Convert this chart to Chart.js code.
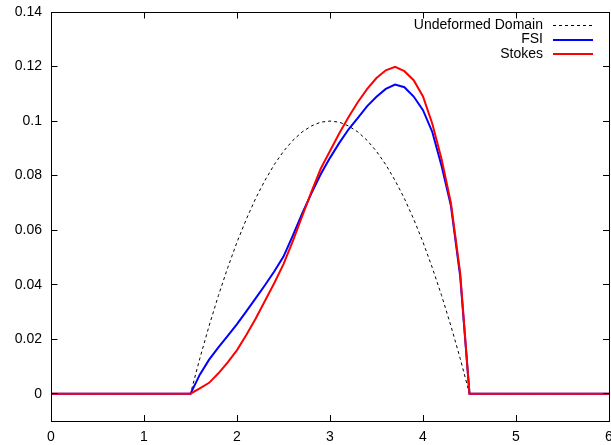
<!DOCTYPE html>
<html>
<head>
<meta charset="utf-8">
<script src="https://cdn.jsdelivr.net/npm/chart.js@4/dist/chart.umd.min.js"></script>
<style>
html,body{margin:0;padding:0;background:#fff;}
</style>
</head>
<body>
<canvas id="c" width="611" height="445"></canvas>
<script>
const xGrid = [0, 1.5, 1.6, 1.7, 1.8, 1.9, 2.0, 2.1, 2.2, 2.3, 2.4, 2.5, 2.6, 2.7, 2.8, 2.9, 3.0,
  3.1, 3.2, 3.3, 3.4, 3.5, 3.6, 3.7, 3.8, 3.9, 4.0, 4.1, 4.2, 4.3, 4.4, 4.5, 6];
const yUndeformed = [0, 0, 0.0129, 0.0249, 0.036, 0.0462, 0.0556, 0.064, 0.0716, 0.0782, 0.084, 0.0889, 0.0929, 0.096, 0.0982, 0.0996, 0.1,
  0.0996, 0.0982, 0.096, 0.0929, 0.0889, 0.084, 0.0782, 0.0716, 0.064, 0.0556, 0.0462, 0.036, 0.0249, 0.0129, 0, 0];
const yFSI = [0, 0, 0.007, 0.0125, 0.017, 0.0212, 0.0255, 0.0302, 0.035, 0.0398, 0.0448, 0.0503, 0.058, 0.066, 0.0735, 0.0805, 0.0865,
  0.092, 0.097, 0.1012, 0.1055, 0.1089, 0.1118, 0.1134, 0.1124, 0.109, 0.104, 0.096, 0.0835, 0.069, 0.043, 0, 0];
const yStokes = [0, 0, 0.002, 0.004, 0.0075, 0.0115, 0.016, 0.0215, 0.0275, 0.034, 0.0405, 0.0475, 0.056, 0.065, 0.074, 0.0825, 0.089,
  0.0955, 0.1015, 0.107, 0.1118, 0.1158, 0.1186, 0.1199, 0.1183, 0.115, 0.109, 0.099, 0.086, 0.07, 0.0442, 0, 0];
const seriesLabels = ["Undeformed Domain", "FSI", "Stokes"];
const xTicks = [0, 1, 2, 3, 4, 5, 6];
const yTicks = [0, 0.02, 0.04, 0.06, 0.08, 0.1, 0.12, 0.14];
const yTickLabels = ["0", "0.02", "0.04", "0.06", "0.08", "0.1", "0.12", "0.14"];

const FONT = "'Liberation Sans', Arial, Helvetica, sans-serif";
const BLACK = '#000000';
const pts = ys => xGrid.map((x, i) => ({x: x, y: ys[i]}));

function seg(ctx, x1, y1, x2, y2) {
  ctx.beginPath();
  ctx.moveTo(x1, y1);
  ctx.lineTo(x2, y2);
  ctx.stroke();
}

const framePlugin = {
  id: 'frame',
  afterDraw(chart) {
    const ctx = chart.ctx, a = chart.chartArea;
    const xs = chart.scales.x, ys = chart.scales.y;
    const L = Math.round(a.left - 0.5) + 0.5, R = Math.round(a.right - 0.5) + 0.5;
    const T = Math.round(a.top - 0.5) + 0.5, B = Math.round(a.bottom - 0.5) + 0.5;
    ctx.save();
    ctx.setLineDash([]);
    ctx.strokeStyle = BLACK;
    ctx.lineWidth = 1;
    seg(ctx, L - 0.5, T, R + 0.5, T);
    seg(ctx, L - 0.5, B, R + 0.5, B);
    seg(ctx, L, T - 0.5, L, B + 0.5);
    seg(ctx, R, T - 0.5, R, B + 0.5);
    const tl = 6;
    xTicks.forEach(v => {
      const px = Math.round(xs.getPixelForValue(v) - 0.5) + 0.5;
      seg(ctx, px, B + 0.5, px, B - tl);
      seg(ctx, px, T - 0.5, px, T + tl);
    });
    yTicks.forEach(v => {
      const py = Math.round(ys.getPixelForValue(v) - 0.5) + 0.5;
      seg(ctx, L - 0.5, py, L + tl, py);
      seg(ctx, R + 0.5, py, R - tl, py);
    });

    ctx.font = '14px ' + FONT;
    ctx.textAlign = 'right';
    ctx.textBaseline = 'middle';
    chart.data.datasets.forEach((ds, i) => {
      const y = a.top + 13 + i * 14.5;
      ctx.fillStyle = BLACK;
      ctx.fillText(ds.label, a.right - 66, y);
      ctx.strokeStyle = ds.borderColor;
      ctx.lineWidth = ds.borderWidth;
      ctx.setLineDash(ds.borderDash || []);
      const ly = Math.round(y) + (ds.borderWidth % 2 ? 0.5 : 0);
      seg(ctx, a.right - 56, ly, a.right - 16, ly);
    });
    ctx.restore();
  }
};

const zeroPad = s => { s.paddingLeft = 0; s.paddingRight = 0; s.paddingTop = 0; s.paddingBottom = 0; };
const gridOpts = {display: true, drawOnChartArea: false, drawTicks: true, tickLength: -6, color: BLACK, lineWidth: 1};
const borderOpts = {display: true, color: BLACK, width: 1};
const setXTicks = s => { s.ticks = xTicks.map(v => ({value: v})); };
const setYTicks = s => { s.ticks = yTicks.map(v => ({value: v})); };

new Chart(document.getElementById('c'), {
  type: 'line',
  data: {
    datasets: [
      {label: seriesLabels[0], data: pts(yUndeformed), borderColor: BLACK, borderWidth: 1, borderDash: [3, 3], order: 3},
      {label: seriesLabels[1], data: pts(yFSI), borderColor: '#0000ff', borderWidth: 2, order: 2},
      {label: seriesLabels[2], data: pts(yStokes), borderColor: '#ff0000', borderWidth: 2, order: 1}
    ]
  },
  options: {
    responsive: false,
    animation: false,
    events: [],
    layout: {autoPadding: false, padding: {top: 12, right: 2, left: 0, bottom: 0}},
    elements: {point: {radius: 0}, line: {tension: 0, fill: false}},
    plugins: {legend: {display: false}, tooltip: {enabled: false}},
    scales: {
      x: {
        type: 'linear', position: 'bottom', min: 0, max: 6,
        afterBuildTicks: setXTicks,
        afterFit: s => { s.height = 24; zeroPad(s); },
        grid: gridOpts,
        border: borderOpts,
        ticks: {padding: 14, color: BLACK, font: {family: FONT, size: 14}, maxRotation: 0, autoSkip: false,
          callback: v => String(v)}
      },
      x2: {
        type: 'linear', position: 'top', min: 0, max: 6,
        afterBuildTicks: setXTicks,
        afterFit: s => { s.height = 0; zeroPad(s); },
        grid: gridOpts,
        border: borderOpts,
        ticks: {display: false}
      },
      y: {
        type: 'linear', position: 'left', min: -0.01, max: 0.14,
        afterBuildTicks: setYTicks,
        afterFit: s => { s.width = 51; zeroPad(s); },
        grid: gridOpts,
        border: borderOpts,
        ticks: {padding: 15, color: BLACK, font: {family: FONT, size: 14}, autoSkip: false,
          callback: (v, i) => yTickLabels[i]}
      },
      y2: {
        type: 'linear', position: 'right', min: -0.01, max: 0.14,
        afterBuildTicks: setYTicks,
        afterFit: s => { s.width = 0; zeroPad(s); },
        grid: gridOpts,
        border: borderOpts,
        ticks: {display: false}
      }
    }
  },
  plugins: [framePlugin]
});
</script>
</body>
</html>
